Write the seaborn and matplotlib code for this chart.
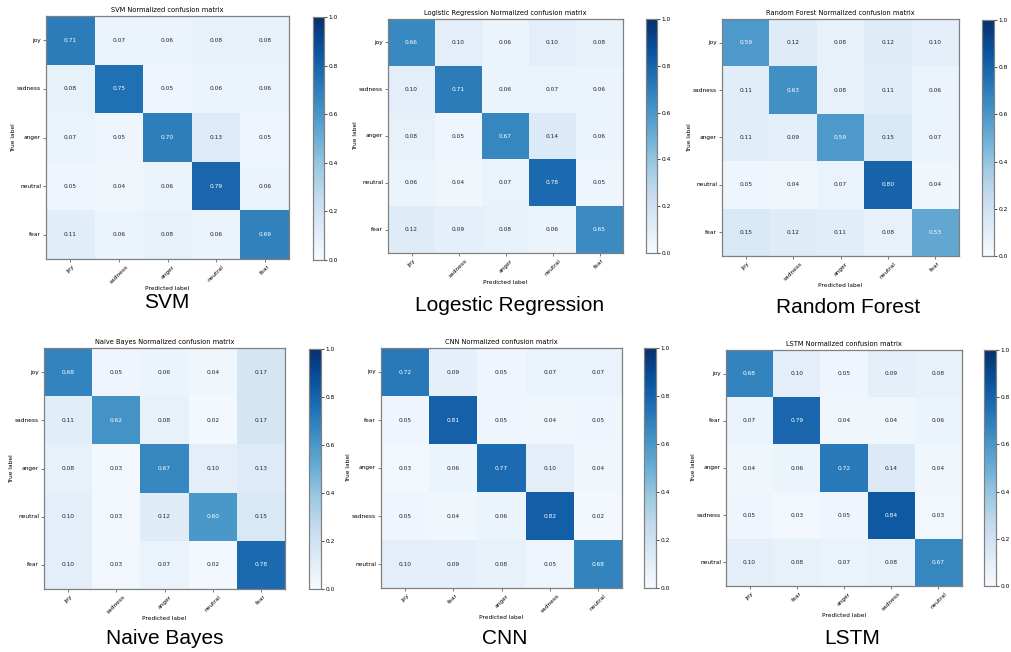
import numpy as np
import pandas as pd
import matplotlib
matplotlib.use("Agg")
import matplotlib.pyplot as plt
import seaborn as sns

# Class orders used by each model
labels_classic = ["joy", "sadness", "anger", "neutral", "fear"]
labels_deep = ["joy", "fear", "anger", "sadness", "neutral"]

# Normalized confusion matrices (rows = true label, cols = predicted label)
svm_cm = [[0.71, 0.07, 0.06, 0.08, 0.08],
          [0.08, 0.75, 0.05, 0.06, 0.06],
          [0.07, 0.05, 0.70, 0.13, 0.05],
          [0.05, 0.04, 0.06, 0.79, 0.06],
          [0.11, 0.06, 0.08, 0.06, 0.69]]

lr_cm = [[0.66, 0.10, 0.06, 0.10, 0.08],
         [0.10, 0.71, 0.06, 0.07, 0.06],
         [0.08, 0.05, 0.67, 0.14, 0.06],
         [0.06, 0.04, 0.07, 0.78, 0.05],
         [0.12, 0.09, 0.08, 0.06, 0.65]]

rf_cm = [[0.59, 0.12, 0.08, 0.12, 0.10],
         [0.11, 0.63, 0.08, 0.11, 0.06],
         [0.11, 0.09, 0.59, 0.15, 0.07],
         [0.05, 0.04, 0.07, 0.80, 0.04],
         [0.15, 0.12, 0.11, 0.08, 0.53]]

nb_cm = [[0.68, 0.05, 0.06, 0.04, 0.17],
         [0.11, 0.62, 0.08, 0.02, 0.17],
         [0.08, 0.03, 0.67, 0.10, 0.13],
         [0.10, 0.03, 0.12, 0.60, 0.15],
         [0.10, 0.03, 0.07, 0.02, 0.78]]

cnn_cm = [[0.72, 0.09, 0.05, 0.07, 0.07],
          [0.05, 0.81, 0.05, 0.04, 0.05],
          [0.03, 0.06, 0.77, 0.10, 0.04],
          [0.05, 0.04, 0.06, 0.82, 0.02],
          [0.10, 0.09, 0.08, 0.05, 0.68]]

lstm_cm = [[0.68, 0.10, 0.05, 0.09, 0.08],
           [0.07, 0.79, 0.04, 0.04, 0.06],
           [0.04, 0.06, 0.72, 0.14, 0.04],
           [0.05, 0.03, 0.05, 0.84, 0.03],
           [0.10, 0.08, 0.07, 0.08, 0.67]]

model_names = ["SVM", "Logistic Regression", "Random Forest",
               "Naive Bayes", "CNN", "LSTM"]
captions = ["SVM", "Logestic Regression", "Random Forest",
            "Naive Bayes", "CNN", "LSTM"]

W, H = 1011, 652
fig = plt.figure(figsize=(W / 100, H / 100), dpi=100)
fig.patch.set_facecolor("white")


def rect(x0, y0, x1, y1):
    """Pixel box (top-left origin) -> figure fraction rect."""
    return [x0 / W, 1 - y1 / H, (x1 - x0) / W, (y1 - y0) / H]


# heatmap box, colorbar box, caption centre
layout = [
    ((46, 16, 289, 259), (313, 17, 324, 260), (167, 302)),
    ((388, 19, 623, 253), (646, 19, 657, 253), (510, 305)),
    ((722, 19, 959, 256), (982, 20, 994, 256), (848, 307)),
    ((44, 348, 285, 589), (309, 349, 321, 589), (165, 638)),
    ((381, 348, 622, 588), (644, 348, 656, 588), (505, 638)),
    ((726, 350, 962, 586), (984, 350, 996, 586), (852, 638)),
]

panels = [
    (svm_cm, labels_classic), (lr_cm, labels_classic), (rf_cm, labels_classic),
    (nb_cm, labels_classic), (cnn_cm, labels_deep), (lstm_cm, labels_deep),
]

small = 4.2
frame = "#808080"

for (cm, labs), name, cap, (hm_box, cb_box, cap_xy) in zip(panels, model_names, captions, layout):
    ax = fig.add_axes(rect(*hm_box))
    cax = fig.add_axes(rect(*cb_box))
    df = pd.DataFrame(np.array(cm), index=labs, columns=labs)
    sns.heatmap(df, ax=ax, cbar_ax=cax, cmap="Blues", vmin=0, vmax=1,
                annot=True, fmt=".2f", annot_kws={"fontsize": small},
                square=False, cbar=True)
    ax.set_title(f"{name} Normalized confusion matrix", fontsize=4.8, pad=3)
    ax.set_xlabel("Predicted label", fontsize=small, labelpad=1)
    ax.set_ylabel("True label", fontsize=small, labelpad=1)
    ax.set_xticklabels(labs, rotation=45, ha="center", fontsize=small)
    ax.set_yticklabels(labs, rotation=0, fontsize=small)
    ax.tick_params(length=2, width=0.5, pad=1.5, color="#444444")
    for s in ax.spines.values():
        s.set_visible(True)
        s.set_color(frame)
        s.set_linewidth(0.9)

    cax.set_yticks([0.0, 0.2, 0.4, 0.6, 0.8, 1.0])
    cax.set_yticklabels(["0.0", "0.2", "0.4", "0.6", "0.8", "1.0"])
    cax.tick_params(labelsize=small, length=2, width=0.5, pad=1.5)
    cax.set_frame_on(True)
    for s in cax.spines.values():
        s.set_visible(True)
        s.set_color(frame)
        s.set_linewidth(0.8)

    fig.text(cap_xy[0] / W, 1 - cap_xy[1] / H, cap, ha="center", va="center",
             fontsize=15, family="Liberation Sans")

fig.savefig("out.png", dpi=100, facecolor="white")
